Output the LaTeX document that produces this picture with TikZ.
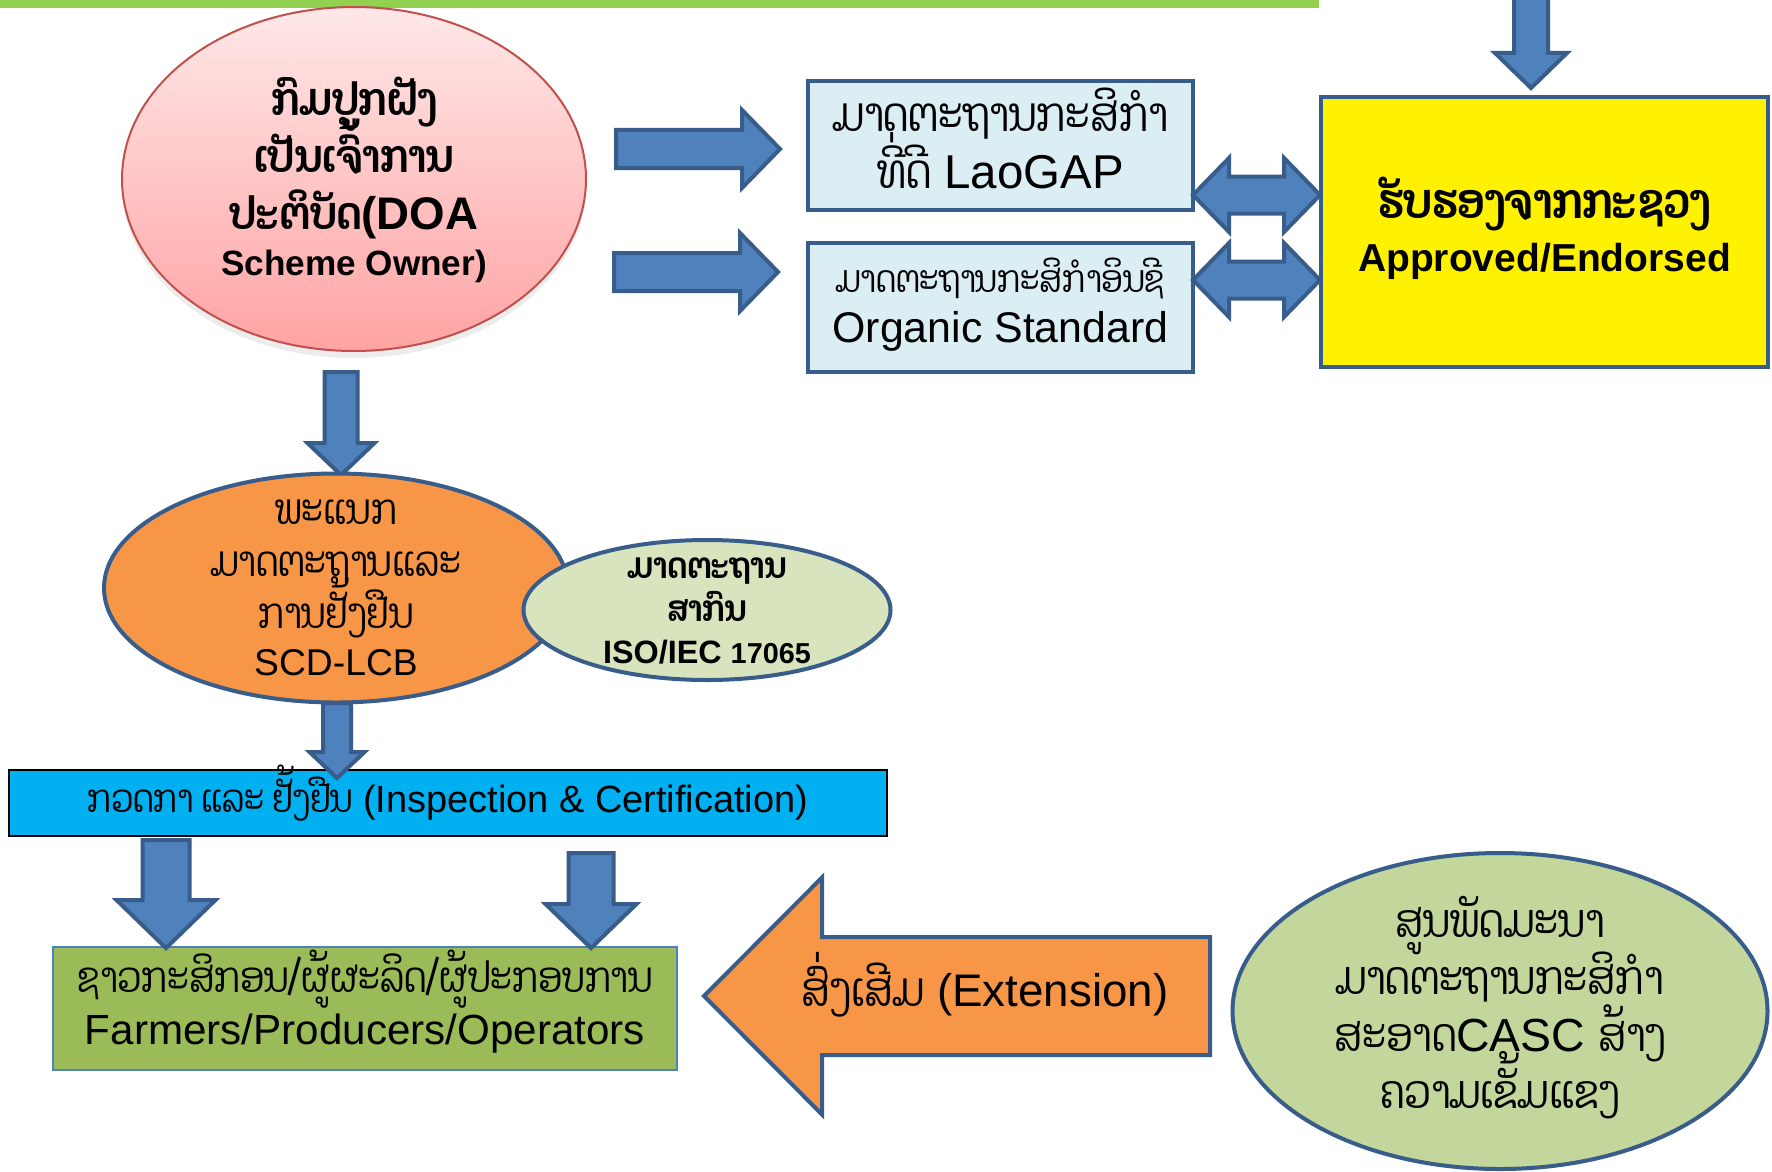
\documentclass[tikz,border=0pt]{standalone}
\usepackage{fontspec}
\setmainfont{Liberation Sans}
\newfontfamily\lao[Script=Lao,FakeStretch=0.83]{Dhyana}
\usetikzlibrary{shapes.geometric,shadows}

\definecolor{barcol}{HTML}{92D050}
\definecolor{blkfill}{HTML}{4F81BD}
\definecolor{blkline}{HTML}{385D8A}
\definecolor{pinktop}{HTML}{FFE8E8}
\definecolor{pinkbot}{HTML}{FFA3A3}
\definecolor{pinkline}{HTML}{C0504D}
\definecolor{boxfill}{HTML}{DAEEF3}
\definecolor{orangefill}{HTML}{F79646}
\definecolor{isofill}{HTML}{D7E4BD}
\definecolor{inspfill}{HTML}{00B0F0}
\definecolor{farmfill}{HTML}{9BBB59}
\definecolor{cascfill}{HTML}{C3D69B}

\newcommand{\fs}[2]{\fontsize{#1}{#2}\selectfont\lineskiplimit=-20pt\relax}
\newcommand{\lo}[1]{{\lao #1}}

% block arrows: [style] tip, length, shaft width, head width, head length
\newcommand{\downblk}[6][blk]{%
  \draw[#1] #2 -- ++({#5/2},{-#6}) -- ++({-(#5-#4)/2},0) -- ++(0,{-(#3-#6)})
    -- ++({-#4},0) -- ++(0,{#3-#6}) -- ++({-(#5-#4)/2},0) -- cycle;}
\newcommand{\rightblk}[6][blk]{%
  \draw[#1] #2 -- ++({-#6},{-#5/2}) -- ++(0,{(#5-#4)/2}) -- ++({-(#3-#6)},0)
    -- ++(0,{#4}) -- ++({#3-#6},0) -- ++(0,{(#5-#4)/2}) -- cycle;}
\newcommand{\leftblk}[6][blk]{%
  \draw[#1] #2 -- ++({#6},{-#5/2}) -- ++(0,{(#5-#4)/2}) -- ++({#3-#6},0)
    -- ++(0,{#4}) -- ++({-(#3-#6)},0) -- ++(0,{(#5-#4)/2}) -- cycle;}
\newcommand{\dblblk}[6][blk]{%
  \draw[#1] #2 -- ++({#6},{-#5/2}) -- ++(0,{(#5-#4)/2}) -- ++({#3-2*#6},0)
    -- ++(0,{-(#5-#4)/2}) -- ++({#6},{#5/2}) -- ++({-#6},{#5/2})
    -- ++(0,{-(#5-#4)/2}) -- ++({-(#3-2*#6)},0) -- ++(0,{(#5-#4)/2}) -- cycle;}

\begin{document}
\begin{tikzpicture}[x=0.1mm,y=-0.1mm,
    blk/.style={fill=blkfill,draw=blkline,line width=0.4mm},
    extblk/.style={fill=orangefill,draw=blkline,line width=0.4mm},
    txt/.style={align=center,inner sep=0pt},
    doastyle/.style={ellipse,minimum width=46.4mm,minimum height=34.4mm,
      top color=pinktop,bottom color=pinkbot,draw=pinkline,line width=0.2mm,
      drop shadow={opacity=0.15,shadow xshift=0mm,shadow yshift=-0.7mm}},
    stdbox/.style={rectangle,fill=boxfill,draw=blkline,line width=0.4mm,
      minimum width=38.5mm,minimum height=12.9mm},
    appbox/.style={rectangle,fill=yellow,draw=blkline,line width=0.4mm,
      minimum width=44.7mm,minimum height=27mm},
    lcbstyle/.style={ellipse,fill=orangefill,draw=blkline,line width=0.4mm,
      minimum width=46.4mm,minimum height=22.9mm},
    isostyle/.style={ellipse,fill=isofill,draw=blkline,line width=0.4mm,
      minimum width=36.7mm,minimum height=14mm},
    inspbox/.style={rectangle,fill=inspfill,draw=black,line width=0.2mm,
      minimum width=87.8mm,minimum height=6.6mm},
    farmbox/.style={rectangle,fill=farmfill,draw=blkfill,line width=0.15mm,
      minimum width=62.4mm,minimum height=12.3mm},
    cascstyle/.style={ellipse,fill=cascfill,draw=blkline,line width=0.4mm,
      minimum width=53.5mm,minimum height=31.6mm}]
  \useasboundingbox (0,0) rectangle (1772,1171);
  \clip (0,0) rectangle (1772,1171);
  \fill[white] (0,0) rectangle (1772,1171);
  \fill[barcol] (0,0) rectangle (1319,8);

  % scheme owner and standards
  \node[doastyle] (doa) at (354,179) {};
  \node[txt,font=\fs{13}{16.3}\bfseries] (doatxt) at (354,180)
    {\lo{ກົມປູກຝັງ}\\\lo{ເປັນເຈົ້າການ}\\\lo{ປະຕິບັດ}(DOA\\[-3.2pt]{\fs{10}{12}Scheme Owner)}};
  \rightblk{(780,149)}{164}{38}{78}{38}
  \rightblk{(778,272)}{164}{38}{78}{38}
  \node[stdbox] (gap) at (1000.5,145.5) {};
  \node[txt,font=\fs{13.5}{16.2},yshift=0.7mm] (gaptxt) at (gap)
    {\lo{ມາດຕະຖານກະສິກຳ}\\\lo{ທີ່ດີ} LaoGAP};
  \node[stdbox] (org) at (1000.5,307.5) {};
  \node[txt,font=\fs{12.2}{14.2},yshift=0.3mm] (orgtxt) at (org)
    {{\fs{10.7}{14.2}\lo{ມາດຕະຖານກະສິກຳອິນຊີ}}\\Organic Standard};
  \dblblk{(1193,195)}{127}{37}{74}{36}
  \dblblk{(1193,280)}{127}{37}{74}{36}
  \node[appbox] (app) at (1544.5,232) {};
  \node[txt,font=\fs{14}{15}\bfseries,yshift=0.4mm] (apptxt) at (app)
    {\lo{ຮັບຮອງຈາກກະຊວງ}\\{\fs{11.1}{15}Approved/Endorsed}};
  \downblk{(1531,88)}{98}{34}{72}{35}

  % certification body
  \downblk{(341,475)}{103}{33}{67}{32}
  \node[lcbstyle] (lcb) at (336,588) {};
  \node[txt,font=\fs{12}{14.8}] (lcbtxt) at (lcb)
    {\lo{ພະແນກ}\\\lo{ມາດຕະຖານແລະ}\\\lo{ການຢັ້ງຢືນ}\\[-1.5pt]{\fs{10.6}{12}SCD-LCB}};
  \node[isostyle] (iso) at (707,610) {};
  \node[txt,font=\fs{10.3}{12}\bfseries] (isotxt) at (707,611)
    {\lo{ມາດຕະຖານ}\\\lo{ສາກົນ}\\{\fs{9.2}{11}ISO/IEC {\fs{8.2}{11}17065}}};
  \node[inspbox] (insp) at (448,803) {};
  \node[txt,yshift=1mm] (insptxt) at (insp)
    {{\fs{11}{13}\lo{ກວດກາ ແລະ ຢັ້ງຢືນ}} {\fs{10.8}{13}(Inspection \& Certification)}};
  \downblk{(337,778)}{75}{28}{55}{26}

  % farmers and extension
  \node[farmbox] (farm) at (365,1008.5) {};
  \node[txt,font=\fs{12}{15},yshift=0.7mm] (farmtxt) at (farm)
    {\lo{ຊາວກະສິກອນ/ຜູ້ຜະລິດ/ຜູ້ປະກອບການ}\\Farmers/Producers/Operators};
  \downblk{(166,948)}{108}{47}{99}{48}
  \downblk{(591,948)}{95}{45}{91}{44}
  \leftblk[extblk]{(704,996)}{506}{118}{237}{118}
  \node[txt,font=\fs{13}{15}] (ext) at (985,985) {{\fs{13.5}{15}\lo{ສົ່ງເສີມ}} (Extension)};
  \node[cascstyle] (casc) at (1500,1011) {};
  \node[txt,font=\fs{13.2}{16.2}] (casctxt) at (1500,1008)
    {\lo{ສູນພັດມະນາ}\\\lo{ມາດຕະຖານກະສິກຳ}\\\lo{ສະອາດ}CASC \lo{ສ້າງ}\\\lo{ຄວາມເຂັ້ມແຂງ}};
\end{tikzpicture}
\end{document}
